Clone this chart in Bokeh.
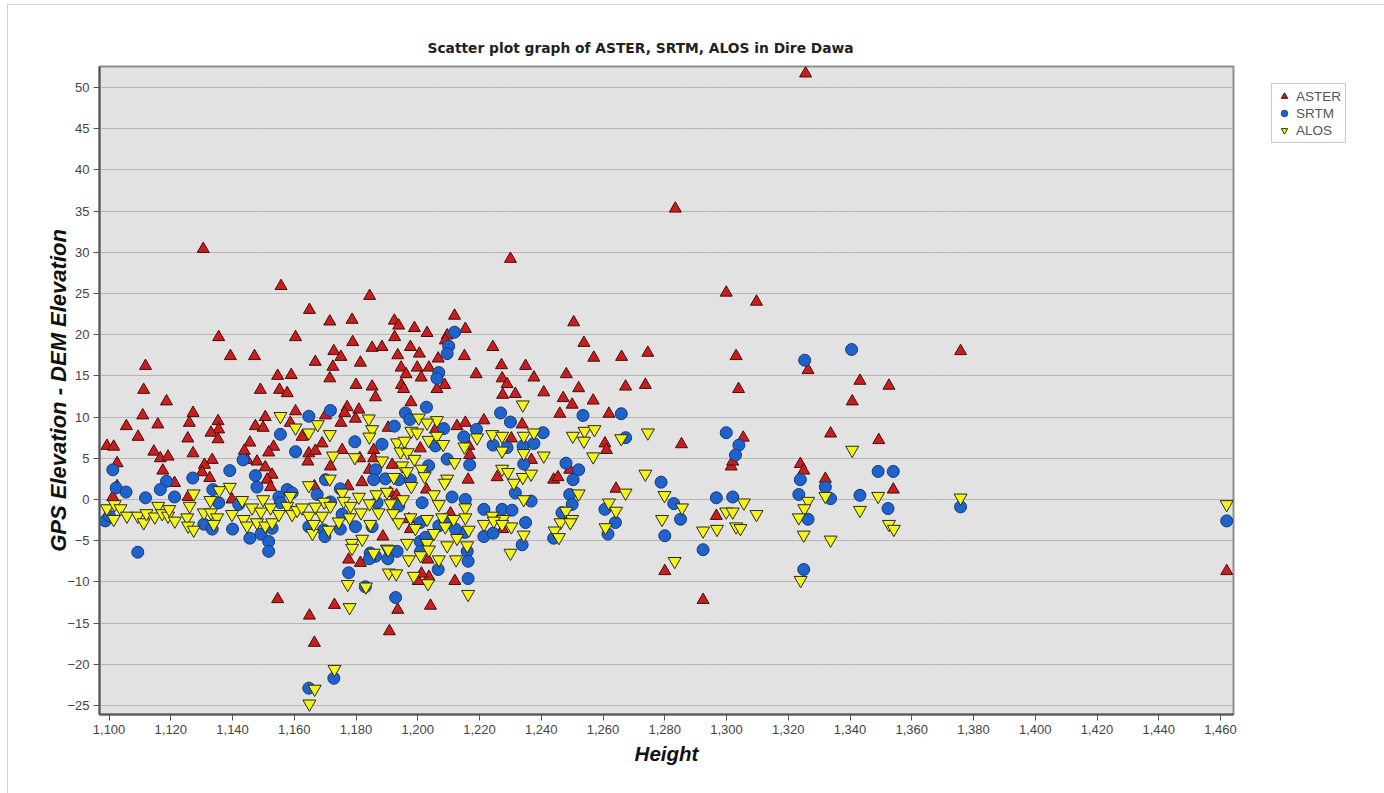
from bokeh.plotting import figure
from bokeh.layouts import row
from bokeh.models import Legend, LegendItem, NumeralTickFormatter, FixedTicker, ColumnDataSource
from bokeh.embed import file_html
from bokeh.resources import INLINE

# Height (m) and GPS - DEM elevation difference (m) for each DEM
aster_height = [
    1325.6, 1283.4, 1130.5, 1155.7, 1164.9, 1160.4, 1135.5, 1166.8, 1139.3, 1147.1,
    1111.8, 1154.6, 1159.0, 1111.2, 1155.2, 1157.7, 1149.0, 1118.6, 1127.2, 1110.9,
    1160.4, 1135.3, 1126.0, 1105.6, 1115.8, 1147.4, 1150.6, 1149.9, 1158.7, 1135.5,
    1133.0, 1135.3, 1109.4, 1125.5, 1162.5, 1099.3, 1101.5, 1145.6, 1153.3, 1151.7,
    1143.8, 1114.5, 1116.6, 1119.1, 1127.2, 1133.4, 1164.7, 1164.4, 1102.6, 1130.9,
    1144.7, 1147.9, 1150.6, 1130.1, 1117.4, 1152.8, 1132.6, 1151.2, 1121.2, 1152.3,
    1101.2, 1125.6, 1139.8, 1102.6,
    1230.0, 1184.4, 1171.5, 1178.7, 1192.4, 1193.8, 1211.9, 1198.9, 1203.0, 1215.4,
    1209.5, 1192.5, 1208.9, 1178.9, 1185.2, 1188.4, 1197.6, 1224.3, 1172.8, 1175.1,
    1193.5, 1200.5, 1181.4, 1206.6, 1215.1, 1172.5, 1194.6, 1199.8, 1203.6, 1227.1,
    1234.9, 1196.2, 1201.1, 1218.9, 1171.5, 1227.3, 1228.9, 1180.0, 1185.2, 1194.7,
    1208.7, 1195.4, 1206.2, 1186.3, 1227.5, 1231.6, 1197.8, 1177.1, 1180.9, 1176.3,
    1170.1, 1179.8, 1175.1, 1212.7, 1215.4, 1221.4, 1233.8, 1190.4, 1205.7, 1230.3,
    1216.5, 1169.0, 1166.8, 1175.5, 1185.7, 1200.8, 1216.8, 1181.2, 1185.7, 1191.7,
    1171.7, 1184.3, 1225.7, 1216.3, 1181.9, 1202.8, 1166.5, 1177.4, 1191.1, 1193.1,
    1197.1, 1188.7, 1197.6, 1210.6,
    1299.9, 1250.5, 1253.8, 1257.0, 1266.0, 1274.5, 1303.1, 1237.6, 1248.1, 1252.1,
    1267.3, 1273.7, 1303.9, 1240.8, 1247.1, 1250.0, 1256.8, 1246.0, 1261.9, 1260.6,
    1261.1, 1285.4, 1236.8, 1249.2, 1244.0, 1245.4, 1264.2, 1301.5, 1302.0, 1296.7,
    1280.0, 1292.4,
    1309.7, 1305.4, 1375.8, 1326.4, 1343.2, 1352.6, 1340.7, 1333.7, 1349.3, 1323.9,
    1325.0, 1332.0, 1354.0, 1462.0,
    1154.6, 1164.9, 1166.5, 1173.0, 1177.6, 1181.4, 1190.8, 1193.5, 1204.1, 1200.1,
    1203.6, 1201.2, 1212.0, 1203.3, 1227.5,
]
aster_diff = [
    51.7, 35.3, 30.4, 25.9, 23.0, 19.7, 19.7, 16.7, 17.4, 17.4,
    16.2, 15.0, 15.1, 13.3, 13.3, 12.9, 13.3, 11.9, 10.5, 10.2,
    10.7, 9.5, 9.3, 8.9, 9.1, 8.9, 10.0, 8.7, 9.3, 8.5,
    8.1, 7.3, 7.6, 7.4, 7.6, 6.5, 6.4, 6.9, 6.4, 5.7,
    5.9, 5.8, 5.0, 5.2, 5.6, 4.8, 5.6, 4.6, 4.4, 4.2,
    4.8, 4.6, 3.9, 3.3, 3.5, 3.0, 2.6, 2.4, 2.0, 1.5,
    0.3, 0.3, 0.0, 1.6,
    29.2, 24.7, 21.6, 21.8, 21.7, 21.1, 22.3, 20.8, 20.2, 20.7,
    19.9, 19.7, 19.3, 19.1, 18.4, 18.5, 18.5, 18.5, 18.0, 17.3,
    17.5, 17.7, 16.6, 17.1, 17.4, 16.1, 16.0, 16.0, 16.0, 16.3,
    16.2, 15.2, 14.8, 15.2, 14.7, 14.7, 14.0, 13.9, 13.7, 13.9,
    13.9, 13.4, 13.4, 12.4, 12.7, 12.8, 11.8, 11.2, 10.9, 10.5,
    10.2, 9.8, 9.3, 8.9, 9.3, 9.6, 9.1, 8.7, 8.5, 7.4,
    6.5, 6.8, 5.9, 6.0, 6.0, 6.2, 5.4, 5.0, 5.0, 4.2,
    4.0, 3.6, 2.7, 2.4, 2.1, 1.2, 1.6, 1.6, 0.8, 0.5,
    -2.4, -4.5, -3.6, -1.7,
    25.1, 21.5, 19.0, 17.2, 17.3, 17.8, 17.4, 14.8, 15.2, 13.5,
    13.7, 13.9, 13.4, 13.0, 12.3, 11.5, 12.0, 10.4, 10.4, 6.8,
    6.0, 6.7, 4.8, 3.6, 2.4, 2.7, 1.3, 4.0, 4.6, -2.0,
    -8.7, -12.2,
    24.0, 7.5, 18.0, 15.7, 14.4, 13.8, 11.9, 8.0, 7.2, 4.3,
    3.5, 2.5, 1.2, -8.7,
    -12.1, -14.1, -17.4, -12.8, -7.3, -7.7, -16.0, -13.4, -12.9, -9.9,
    -9.4, -9.0, -9.9, -7.3, -3.6,
]

srtm_height = [
    1164.7, 1155.5, 1160.4, 1143.4, 1101.2, 1139.1, 1127.1, 1147.4, 1118.6, 1102.3,
    1147.9, 1116.6, 1105.5, 1121.2, 1157.7, 1111.8, 1133.6, 1155.0, 1159.3, 1098.8,
    1100.1, 1130.7, 1133.4, 1140.0, 1145.6, 1149.2, 1151.7, 1152.8, 1109.3, 1151.7,
    1164.7, 1135.5, 1155.5, 1142.0,
    1211.9, 1210.0, 1209.5, 1206.8, 1206.2, 1171.7, 1202.8, 1226.8, 1196.0, 1197.4,
    1230.0, 1192.4, 1208.4, 1219.0, 1214.9, 1179.6, 1188.4, 1205.7, 1224.4, 1228.9,
    1234.1, 1209.5, 1216.8, 1234.3, 1186.3, 1203.5, 1170.1, 1185.7, 1189.5, 1193.8,
    1197.6, 1231.6, 1174.9, 1211.1, 1215.4, 1201.4, 1221.4, 1227.3, 1230.5, 1234.9,
    1193.8, 1186.8, 1171.7, 1167.4, 1175.5, 1169.5, 1179.8, 1185.2, 1200.8, 1208.9,
    1215.2, 1221.4, 1224.4, 1193.3, 1200.8, 1216.0, 1233.8, 1184.6, 1186.3,
    1253.5, 1265.9, 1240.6, 1267.3, 1299.9, 1237.6, 1304.0, 1302.9, 1248.0, 1252.1,
    1250.3, 1249.2, 1236.7, 1278.8, 1282.9, 1296.7, 1302.0, 1285.1, 1260.6, 1250.0,
    1246.7, 1264.0, 1261.6, 1280.0, 1244.0, 1292.4,
    1340.5, 1325.3, 1349.1, 1354.0, 1323.9, 1323.4, 1332.0, 1343.2, 1333.7, 1352.3,
    1375.8, 1326.4, 1325.0, 1462.0,
    1164.7, 1172.8, 1177.6, 1183.0, 1192.8, 1190.3, 1184.3, 1206.6, 1216.3, 1216.3,
    1200.9, 1169.9, 1174.9, 1202.5, 1206.8, 1212.2,
]
srtm_diff = [
    10.1, 7.9, 5.8, 4.8, 3.6, 3.5, 2.6, 2.9, 2.2, 1.4,
    1.5, 1.2, 0.9, 0.3, 1.2, 0.2, 1.2, 0.3, 0.8, -2.6,
    -2.0, -3.0, -3.6, -3.6, -4.7, -4.2, -5.1, -3.5, -6.4, -6.3,
    -3.3, -0.4, -0.4, -0.6,
    20.3, 18.6, 17.7, 15.4, 14.7, 10.8, 11.2, 10.5, 10.5, 9.7,
    9.4, 8.9, 8.6, 8.5, 7.6, 7.0, 6.7, 6.5, 6.6, 6.3,
    6.5, 4.9, 4.2, 4.3, 3.6, 4.1, 2.4, 2.4, 2.5, 2.4,
    2.4, 0.8, 1.3, 0.3, 0.0, -0.4, -1.2, -1.2, -1.3, -2.8,
    -0.8, -0.4, -0.3, 0.6, -1.8, -3.7, -3.3, -3.3, -2.8, -2.4,
    -4.0, -4.5, -4.1, -6.3, -5.1, -6.3, -5.5, -6.5, -6.9,
    10.2, 10.4, 8.1, 7.5, 8.1, 6.8, 6.6, 5.4, 4.4, 3.6,
    2.4, 0.6, -0.2, 2.1, -0.5, 0.2, 0.3, -2.4, -1.2, -0.6,
    -1.6, -2.8, -4.2, -4.4, -4.7, -6.1,
    18.2, 16.9, 3.4, 3.4, 2.4, 0.6, 1.5, 0.5, 0.1, -1.1,
    -0.9, -2.4, -8.5, -2.6,
    -22.9, -21.7, -8.9, -10.6, -11.9, -7.2, -7.2, -8.5, -9.6, -7.5,
    -6.3, -4.5, -3.6, -4.6, -3.2, -3.6,
]

alos_height = [
    1155.5, 1160.4, 1164.7, 1139.1, 1135.7, 1164.7, 1127.4, 1099.3, 1101.8, 1103.7,
    1101.5, 1105.8, 1109.3, 1111.2, 1112.1, 1114.8, 1115.9, 1117.2, 1119.1, 1121.3,
    1119.5, 1125.3, 1126.1, 1125.6, 1127.4, 1130.7, 1132.8, 1133.0, 1135.0, 1133.9,
    1139.8, 1143.1, 1143.6, 1144.7, 1146.3, 1147.9, 1149.2, 1149.9, 1150.6, 1152.3,
    1152.8, 1155.0, 1157.7, 1158.7, 1159.3, 1160.9, 1162.5, 1164.7, 1165.9,
    1234.0, 1184.1, 1200.3, 1206.2, 1167.6, 1185.2, 1203.0, 1171.5, 1197.9, 1199.8,
    1224.1, 1227.3, 1234.3, 1184.3, 1219.2, 1193.3, 1203.5, 1206.2, 1208.2, 1195.7,
    1215.1, 1227.3, 1194.4, 1196.7, 1234.3, 1172.5, 1179.6, 1188.4, 1198.9, 1211.9,
    1194.9, 1201.2, 1227.3, 1229.2, 1196.5, 1234.0, 1171.5, 1192.2, 1202.2, 1209.5,
    1208.7, 1231.1, 1197.9, 1234.3, 1180.9, 1175.5, 1186.6, 1190.0, 1205.2, 1215.4,
    1169.7, 1176.0, 1184.4, 1191.1, 1195.2, 1206.8, 1166.8, 1171.7, 1178.2, 1181.6,
    1187.3, 1192.0, 1197.6, 1203.0, 1207.9, 1211.6, 1215.4, 1224.1, 1227.6, 1230.3,
    1169.0, 1174.4, 1177.9, 1184.6, 1193.8, 1199.2, 1205.2, 1208.9, 1212.7, 1216.5,
    1221.4, 1234.3, 1166.3, 1171.1, 1178.7, 1190.0, 1196.5, 1203.0, 1209.5, 1216.0,
    1230.0,
    1237.6, 1250.2, 1254.0, 1257.2, 1253.8, 1265.9, 1274.5, 1240.8, 1256.8, 1236.7,
    1273.7, 1252.1, 1267.3, 1279.9, 1248.0, 1250.0, 1261.9, 1264.2, 1285.6, 1246.2,
    1249.4, 1260.8, 1279.1, 1244.3, 1245.7, 1292.4, 1296.9, 1299.9, 1302.0, 1303.1,
    1283.2,
    1340.7, 1349.1, 1375.8, 1343.2, 1332.0, 1326.4, 1325.2, 1323.4, 1325.0, 1333.7,
    1352.6, 1354.2, 1309.7, 1305.6, 1304.5, 1324.0, 1462.0,
    1164.9, 1166.6, 1173.0, 1177.9, 1177.3, 1183.2, 1178.7, 1185.7, 1190.6, 1193.0,
    1198.7, 1203.3, 1216.3, 1197.1, 1212.4, 1206.8, 1190.4, 1200.9, 1203.6, 1182.0,
    1224.6, 1227.3,
]
alos_diff = [
    10.1, 8.7, 8.1, 1.5, 1.1, 1.7, 0.7, -1.1, -0.6, -1.1,
    -2.4, -2.0, -2.0, -2.8, -1.7, -2.1, -0.8, -1.7, -2.0, -2.6,
    -1.2, -2.2, -0.8, -3.2, -3.7, -1.6, -0.1, -1.6, -2.2, -3.0,
    -1.8, -0.1, -2.4, -3.2, -1.0, -2.8, -1.5, 0.0, -3.2, -1.0,
    -2.8, -1.8, -0.8, 0.4, -1.8, -1.3, -1.0, -2.0, -4.1,
    11.5, 9.8, 9.9, 9.6, 9.1, 8.5, 9.3, 7.9, 8.3, 8.1,
    7.9, 7.7, 7.7, 7.6, 7.5, 6.9, 7.2, 7.7, 6.7, 7.1,
    6.4, 5.9, 5.8, 5.7, 5.6, 5.3, 5.1, 4.7, 4.9, 4.5,
    4.1, 3.7, 3.7, 3.3, 3.4, 2.7, 2.5, 2.7, 2.8, 2.5,
    2.0, 2.0, 1.6, 0.0, 0.3, 0.8, 0.6, 0.9, 0.6, -1.0,
    -0.3, -0.2, -0.5, -0.5, 0.0, -0.6, -0.9, -0.8, -0.8, -1.6,
    -1.6, -1.7, -2.2, -2.4, -2.2, -2.4, -2.2, -2.0, -2.4, -3.3,
    -2.0, -2.7, -2.2, -3.0, -2.8, -3.5, -4.1, -3.3, -4.7, -3.7,
    -3.0, -4.3, -3.0, -3.7, -5.3, -6.0, -5.3, -5.3, -5.6, -5.6,
    -6.5,
    8.1, 7.7, 8.3, 8.5, 7.1, 7.4, 8.1, 5.3, 5.2, 3.1,
    3.1, 0.7, 0.8, 0.5, -1.4, -2.4, -0.4, -1.4, -1.0, -2.8,
    -2.8, -3.4, -2.4, -3.8, -4.6, -3.8, -3.6, -1.5, -1.5, -3.3,
    -7.5,
    6.0, 0.4, 0.2, -1.3, 0.4, -0.2, -1.1, -2.2, -4.3, -4.9,
    -3.0, -3.6, -1.8, -0.4, -3.5, -9.8, -0.6,
    -24.8, -23.0, -20.6, -13.1, -10.3, -10.6, -5.9, -6.5, -8.9, -9.0,
    -9.3, -10.2, -11.5, -7.3, -7.3, -7.3, -6.1, -6.8, -6.1, -4.8,
    -2.6, -3.0,
]

series_names = ["ASTER", "SRTM", "ALOS"]

x_ticks = list(range(1100, 1461, 20))
y_ticks = list(range(-25, 51, 5))

FONT = "Liberation Sans"
MARKERS = [
    dict(marker="triangle", size=12, fill_color="#c81e1e", line_color="#4a0c0c"),
    dict(marker="circle", size=12, fill_color="#1f62cc", line_color="#173a78"),
    dict(marker="inverted_triangle", size=13, fill_color="#f4f41c", line_color="#2a2a10"),
]
LEGEND_SIZES = [9, 9, 10]
PAGE_H = 788

p = figure(
    width=1240, height=PAGE_H,
    x_range=(1096.9, 1464.2), y_range=(-26.1, 52.55),
    output_backend="svg", toolbar_location=None,
    min_border_left=91, min_border_right=15,
    min_border_top=61, min_border_bottom=79,
    title="Scatter plot graph of ASTER, SRTM, ALOS in Dire Dawa",
)
p.background_fill_color = "#e2e2e2"
p.border_fill_color = "white"
p.outline_line_color = "#8e8e8e"
p.outline_line_width = 2

p.title.align = "left"
p.title.offset = 328
p.title.text_font = "DejaVu Sans"
p.title.text_font_size = "13.8px"
p.title.text_font_style = "bold"
p.title.text_color = "#222222"
p.title.standoff = 21

p.xgrid.visible = False
p.ygrid.ticker = FixedTicker(ticks=y_ticks)
p.ygrid.grid_line_color = "#8a8a8a"
p.ygrid.grid_line_dash = "1 1"
p.ygrid.grid_line_width = 1

p.xaxis.ticker = FixedTicker(ticks=x_ticks)
p.yaxis.ticker = FixedTicker(ticks=y_ticks)
p.xaxis.formatter = NumeralTickFormatter(format="0,0")

for ax in (p.xaxis, p.yaxis):
    ax.axis_line_color = "#555555"
    ax.axis_line_width = 2
    ax.major_tick_line_color = "#555555"
    ax.major_tick_out = 6
    ax.major_tick_in = 0
    ax.minor_tick_line_color = None
    ax.major_label_text_font = FONT
    ax.major_label_text_font_size = "13px"
    ax.major_label_text_color = "#444444"
    ax.axis_label_text_font = FONT
    ax.axis_label_text_font_style = "bold italic"
    ax.axis_label_text_color = "#111111"

p.xaxis.axis_label = "Height"
p.yaxis.axis_label = "GPS Elevation - DEM Elevation"
p.xaxis.axis_label_text_font_size = "20.5px"
p.yaxis.axis_label_text_font_size = "22px"
p.xaxis.major_label_standoff = 4
p.yaxis.major_label_standoff = 4
p.xaxis.axis_label_standoff = 5
p.yaxis.axis_label_standoff = -7

sources = [
    ColumnDataSource(dict(x=aster_height, y=aster_diff)),
    ColumnDataSource(dict(x=srtm_height, y=srtm_diff)),
    ColumnDataSource(dict(x=alos_height, y=alos_diff)),
]
for src, style in zip(sources, MARKERS):
    p.scatter("x", "y", source=src, line_width=1, **style)

# narrow side canvas that carries only the legend, right of the frame;
# its frame lines up with the main frame (648 px tall).  The legend
# renderers share the series sources, which fall outside this canvas' ranges.
side = figure(
    width=136, height=PAGE_H, x_range=(0, 1), y_range=(0, 1),
    output_backend="svg", toolbar_location=None,
    min_border_left=0, min_border_right=0, min_border_top=61, min_border_bottom=79,
)
side.axis.visible = False
side.grid.visible = False
side.outline_line_color = None
side.background_fill_color = "white"
side.border_fill_color = "white"

items = []
for name, src, style, lsize in zip(series_names, sources, MARKERS, LEGEND_SIZES):
    kw = dict(style)
    kw["size"] = lsize
    r = side.scatter("x", "y", source=src, line_width=1, **kw)
    items.append(LegendItem(label=name, renderers=[r]))

legend = Legend(items=items)
legend.location = (23, 571)
legend.margin = 0
legend.padding = 4
legend.spacing = 1
legend.glyph_width = 16
legend.glyph_height = 16
legend.label_height = 16
legend.label_standoff = 4
legend.label_text_font = FONT
legend.label_text_font_size = "13.5px"
legend.label_text_color = "#555555"
legend.border_line_color = "#9a9a9a"
legend.border_line_width = 1
legend.background_fill_color = "white"
side.add_layout(legend)

page = row(p, side, styles={"margin-left": "7px", "margin-top": "4px",
                            "border-left": "1px solid #d4d4d4",
                            "border-top": "1px solid #d4d4d4"})

open("out.html", "w").write(file_html(page, INLINE))
